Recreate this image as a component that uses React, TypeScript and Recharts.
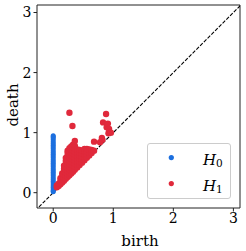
import React from "react";
import {
  ScatterChart,
  Scatter,
  XAxis,
  YAxis,
  ReferenceLine,
  Legend,
} from "recharts";

const BLUE = "#1c6fdf";
const RED = "#e0293b";
const FONT = "DejaVu Serif";

const X_DOMAIN: [number, number] = [-0.27, 3.11];
const Y_DOMAIN: [number, number] = [-0.255, 3.125];
const TICKS = [0, 1, 2, 3];

// H0: every class is born at 0
const h0Deaths = [
  0.015, 0.03, 0.05, 0.08, 0.1, 0.13, 0.16, 0.19, 0.22, 0.25, 0.28, 0.31,
  0.34, 0.37, 0.4, 0.43, 0.46, 0.49, 0.52, 0.55, 0.58, 0.61, 0.64, 0.67,
  0.7, 0.73, 0.76, 0.79, 0.82, 0.85, 0.88, 0.91, 0.93, 0.95,
];

// H1 births / deaths, read column by column
const h1Births = [
  0.06, 0.06,
  0.09, 0.09,
  0.12, 0.12, 0.12,
  0.15, 0.15, 0.15, 0.15,
  0.18, 0.18, 0.18, 0.18, 0.18, 0.18,
  0.21, 0.21, 0.21, 0.21, 0.21, 0.21, 0.21, 0.21,
  0.24, 0.24, 0.24, 0.24, 0.24, 0.24, 0.24, 0.24, 0.24, 0.24,
  0.27, 0.27, 0.27, 0.27, 0.27, 0.27, 0.27, 0.27, 0.27, 0.27,
  0.3, 0.3, 0.3, 0.3, 0.3, 0.3, 0.3, 0.3, 0.3, 0.3,
  0.33, 0.33, 0.33, 0.33, 0.33, 0.33, 0.33, 0.33, 0.33, 0.33,
  0.36, 0.36, 0.36, 0.36, 0.36, 0.36, 0.36, 0.36, 0.36,
  0.4, 0.4, 0.4, 0.4, 0.4, 0.4, 0.4,
  0.44, 0.44, 0.44, 0.44, 0.44, 0.44,
  0.48, 0.48, 0.48, 0.48, 0.48,
  0.52, 0.52, 0.52, 0.52, 0.52,
  0.56, 0.56, 0.56, 0.56,
  0.6, 0.6, 0.6,
  0.64, 0.64,
  0.68,
  0.27, 0.32, 0.36, 0.68, 0.78, 0.81, 0.82, 0.83, 0.88, 0.89, 0.91, 0.92, 0.93, 0.96,
];
const h1Deaths = [
  0.09, 0.12,
  0.11, 0.15,
  0.14, 0.19, 0.24,
  0.17, 0.22, 0.27, 0.32,
  0.2, 0.25, 0.3, 0.35, 0.4, 0.45,
  0.23, 0.28, 0.33, 0.38, 0.43, 0.48, 0.53, 0.58,
  0.26, 0.31, 0.36, 0.41, 0.46, 0.51, 0.56, 0.61, 0.66, 0.7,
  0.29, 0.34, 0.39, 0.44, 0.49, 0.54, 0.59, 0.64, 0.69, 0.74,
  0.32, 0.37, 0.42, 0.47, 0.52, 0.57, 0.62, 0.67, 0.72, 0.77,
  0.35, 0.4, 0.45, 0.5, 0.55, 0.6, 0.65, 0.7, 0.75, 0.8,
  0.38, 0.43, 0.48, 0.53, 0.58, 0.63, 0.68, 0.73, 0.78,
  0.42, 0.47, 0.52, 0.57, 0.62, 0.67, 0.72,
  0.46, 0.51, 0.56, 0.61, 0.66, 0.71,
  0.5, 0.55, 0.6, 0.65, 0.7,
  0.54, 0.59, 0.64, 0.69, 0.73,
  0.58, 0.63, 0.68, 0.73,
  0.62, 0.67, 0.72,
  0.66, 0.71,
  0.7,
  1.33, 1.11, 0.86, 0.85, 0.84, 0.91, 0.88, 1.17, 1.31, 1.09, 1.15, 0.99, 1.06, 1.0,
];

const h0Data = h0Deaths.map((d) => ({ birth: 0, death: d }));
const h1Data = h1Births.map((b, i) => ({ birth: b, death: h1Deaths[i] }));

const dot = (color: string, r: number) => (p: any) =>
  <circle cx={p.cx} cy={p.cy} r={r} fill={color} />;

const DeathLabel = (props: any) => {
  const vb = props.viewBox;
  const x = vb.x + 18.3;
  const y = vb.y + vb.height / 2 - 1.5;
  return (
    <text x={x} y={y} transform={`rotate(-90, ${x}, ${y})`} textAnchor="middle"
      fontFamily={FONT} fontSize={15} fill="#000">death</text>
  );
};

const BirthLabel = (props: any) => {
  const vb = props.viewBox;
  return (
    <text x={vb.x + vb.width / 2 + 1.5} y={vb.y + 37.7} textAnchor="middle"
      fontFamily={FONT} fontSize={15} fill="#000">birth</text>
  );
};

const renderLegend = (props: any) => (
  <div style={{
    width: 84.5, height: 56.5, boxSizing: "border-box", border: "1px solid #cccccc",
    borderRadius: 3, background: "rgba(255,255,255,0.8)",
  }}>
    <svg width={82.5} height={54.5} style={{ display: "block" }}>
      {props.payload.map((e: any, i: number) => (
        <g key={e.value}>
          <circle cx={23.3} cy={13.6 + i * 26} r={2.6} fill={e.color} />
          <text x={55} y={20.5 + i * 26} fontFamily={FONT} fontSize={15} fill="#000">
            <tspan fontStyle="italic">{e.value.slice(0, 1)}</tspan>
            <tspan fontSize={10.5} dy={2}>{e.value.slice(1)}</tspan>
          </text>
        </g>
      ))}
    </svg>
  </div>
);

export default function App() {
  const tick = { fontFamily: FONT, fontSize: 14, fill: "#000" };
  return (
    <div style={{ position: "absolute", left: 0, top: 0, width: 246, height: 251, background: "#fff" }}>
      <ScatterChart width={246} height={251} margin={{ top: 5, right: 6, left: 0, bottom: 0 }}>
        <XAxis type="number" dataKey="birth" domain={X_DOMAIN} ticks={TICKS} allowDataOverflow
          height={43} stroke="#222" tickSize={3.5} tickMargin={2} tick={tick}
          tickLine={{ stroke: "#222" }} label={BirthLabel} />
        <YAxis type="number" dataKey="death" domain={Y_DOMAIN} ticks={TICKS} allowDataOverflow
          width={37} stroke="#222" tickSize={3.5} tickMargin={2} tick={tick}
          tickLine={{ stroke: "#222" }} label={DeathLabel} />
        <ReferenceLine y={Y_DOMAIN[1]} stroke="#222" ifOverflow="visible" />
        <ReferenceLine x={X_DOMAIN[1]} stroke="#222" ifOverflow="visible" />
        <Scatter name="H0" data={h0Data} fill={BLUE} shape={dot(BLUE, 2.5)} isAnimationActive={false} />
        <Scatter name="H1" data={h1Data} fill={RED} shape={dot(RED, 3.2)} isAnimationActive={false} />
        <ReferenceLine
          segment={[{ x: -0.3, y: -0.3 }, { x: 3.2, y: 3.2 }]}
          stroke="#000" strokeWidth={1.1} strokeDasharray="3.7 1.6" ifOverflow="hidden" />
        <Legend layout="horizontal" verticalAlign="middle" align="center" content={renderLegend}
          wrapperStyle={{ left: 146.5, top: 142.5, width: 84.5, height: 56.5 }} />
      </ScatterChart>
    </div>
  );
}
